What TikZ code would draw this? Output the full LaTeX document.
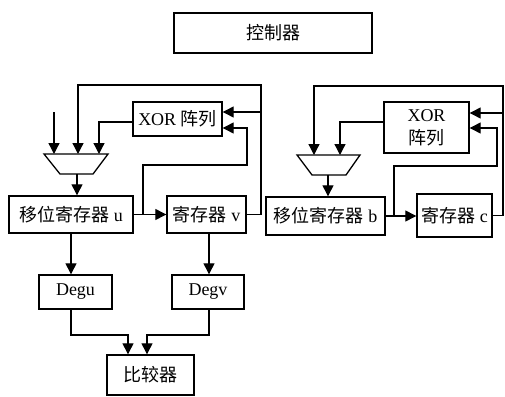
\documentclass[tikz,border=0pt]{standalone}
\usepackage{fontspec}
\setmainfont{Liberation Serif}
\newfontfamily\cjk{Noto Sans CJK SC}
\usetikzlibrary{arrows.meta}
\begin{document}
\begin{tikzpicture}[x=1pt,y=-1pt,
  box/.style={draw,line width=1.4pt,inner sep=0pt,font=\fontsize{18}{21}\selectfont},
  wire/.style={line width=1.3pt},
  arr/.style={wire,-{Triangle[length=11pt,width=11pt]}}]
\useasboundingbox (0,0) rectangle (505,396);
% boxes
\node[box,minimum width=198pt,minimum height=40pt] (ctrl) at (273,33) {\cjk 控制器};
\node[box,minimum width=89pt,minimum height=34pt] (xor1) at (177.5,119) {XOR {\cjk 阵列}};
\node[box,minimum width=124pt,minimum height=37pt] (shu) at (71,214.5) {{\cjk 移位寄存器} u};
\node[box,minimum width=79pt,minimum height=37pt] (rv) at (206.5,214.5) {{\cjk 寄存器} v};
\node[box,minimum width=73pt,minimum height=34pt] (degu) at (75.5,292) {Degu};
\node[box,minimum width=72pt,minimum height=34pt] (degv) at (208,292) {Degv};
\node[box,minimum width=87pt,minimum height=40pt] (cmp) at (150.5,375) {\cjk 比较器};
\node[box,minimum width=85pt,minimum height=51pt,align=center] (xor2) at (426.5,127.5) {XOR\\[2pt]{\cjk 阵列}};
\node[box,minimum width=119pt,minimum height=38pt] (shb) at (325.5,216) {{\cjk 移位寄存器} b};
\node[box,minimum width=75pt,minimum height=43pt] (rc) at (454.5,215.5) {{\cjk 寄存器} c};
% muxes
\draw[line width=1.3pt] (44,154) -- (108,154) -- (93,174) -- (60,174) -- cycle;
\coordinate (m1out) at (77,174);
\draw[line width=1.3pt] (297,155) -- (360,155) -- (346,175) -- (312,175) -- cycle;
\coordinate (m2out) at (328,175);
% left part
\coordinate (in1) at (54,112);
\draw[arr] (in1) -- (54,154);
\draw[arr] (rv.east) -- (261,214.5) -- (261,85) -- (78,85) -- (78,154);
\draw[arr] (261,112) -- (xor1.east |- 0,112);
\draw[arr] (xor1.west |- 0,122) -- (99,122) -- (99,154);
\draw[arr] (m1out) -- (m1out |- shu.north);
\draw[arr] (shu.east) -- (rv.west);
\draw[arr] (143,214.5) -- (143,165) -- (247,165) -- (247,128) -- (xor1.east |- 0,128);
\draw[arr] (shu.south -| 71,0) -- (71,0 |- degu.north);
\draw[arr] (rv.south -| 209,0) -- (209,0 |- degv.north);
\draw[arr] (degu.south -| 71,0) -- (71,335) -- (128,335) -- (128,0 |- cmp.north);
\draw[arr] (degv.south -| 209,0) -- (209,335) -- (147,335) -- (147,0 |- cmp.north);
% right part
\draw[arr] (rc.east) -- (503,215.5) -- (503,86) -- (314,86) -- (314,155);
\draw[arr] (503,113) -- (xor2.east |- 0,113);
\draw[arr] (xor2.west |- 0,122) -- (340,122) -- (340,155);
\draw[arr] (m2out) -- (m2out |- shb.north);
\draw[arr] (shb.east) -- (rc.west |- shb.east);
\draw[arr] (394,216) -- (394,166) -- (497,166) -- (497,128) -- (xor2.east |- 0,128);
\end{tikzpicture}
\end{document}
